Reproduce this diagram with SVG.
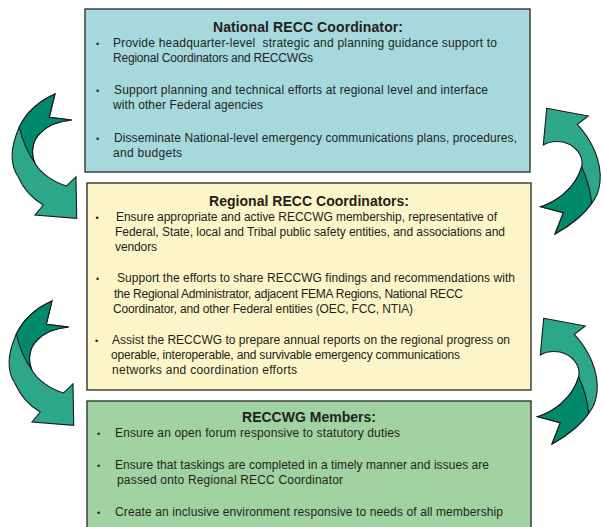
<svg xmlns="http://www.w3.org/2000/svg" xmlns:xlink="http://www.w3.org/1999/xlink" width="603" height="527" viewBox="0 0 603 527">
<style>
.box{stroke:#333;stroke-width:1.4}
.t{font-family:"Liberation Sans",Arial,sans-serif;font-weight:bold;font-size:14px;fill:#231f20;text-anchor:middle}
.b{font-family:"Liberation Sans",Arial,sans-serif;font-size:12px;fill:#231f20}
.bu{font-family:"Liberation Sans",Arial,sans-serif;font-size:9px;fill:#231f20}
.light{fill:#2ca78a;stroke:#1a1a1a;stroke-width:1.1;stroke-linejoin:miter}
.dark{fill:#00896a;stroke:#1a1a1a;stroke-width:1.1}
</style>
<defs>
<g id="arrowDown">
<path class="light" d="M55,94 Q30,105 19.3,127 C10,148 10,165 18.3,177 C24,190 33,199 43.3,205 L35,215 L76.7,218.3 L76,176.7 L66.7,186 C55,183 40,173 35,163.3 C30,152 33,140 40,133.3 C48,125 60,121 71.7,120 L49.3,117.3 Z"/>
<path class="dark" d="M55,94 Q30,105 19.3,127 Q24,148 35,163.3 C30,152 33,140 40,133.3 C48,125 60,121 71.7,120 L49.3,117.3 Z"/>
</g>
<g id="arrowUp">
<path class="light" d="M546.7,108.3 L588.3,116 L577.3,124.3 C592,140 602,162 600,182 C599,192 596,198 591.7,203.3 C586,212 572,225 555,234 L563.3,212.7 L540.7,206.7 C555,202 575,190 581.7,166.7 C584,155 575,145 563,142 C556,141 548,142 543.3,145 Z"/>
<path class="dark" d="M581.7,166.7 Q590,185 591.7,203.3 C586,212 572,225 555,234 L563.3,212.7 L540.7,206.7 C555,202 575,190 581.7,166.7 Z"/>
</g>
</defs>

<g id="node-national">
<rect class="box" x="85" y="9" width="445" height="163" fill="#a5d9dd"/>
<text class="t" x="308" y="31.5" textLength="190">National RECC Coordinator:</text>
<text class="bu" x="96" y="46.5">•</text>
<text class="b" x="113" y="47" textLength="384" xml:space="preserve">Provide headquarter-level  strategic and planning guidance support to</text>
<text class="b" x="113" y="62" textLength="200">Regional Coordinators and RECCWGs</text>
<text class="bu" x="96" y="94">•</text>
<text class="b" x="114" y="94.3" textLength="374">Support planning and technical efforts at regional level and interface</text>
<text class="b" x="113" y="109.3" textLength="150">with other Federal agencies</text>
<text class="bu" x="96" y="141.5">•</text>
<text class="b" x="114" y="141.7" textLength="403">Disseminate National-level emergency communications plans, procedures,</text>
<text class="b" x="113" y="156.7" textLength="69">and budgets</text>
</g>

<g id="node-regional">
<rect class="box" x="87" y="183" width="444" height="207" fill="#fcf5c7"/>
<text class="t" x="309" y="206" textLength="200">Regional RECC Coordinators:</text>
<text class="bu" x="95.5" y="220.5">•</text>
<text class="b" x="116" y="220.7" textLength="381">Ensure appropriate and active RECCWG membership, representative of</text>
<text class="b" x="115" y="236" textLength="390">Federal, State, local and Tribal public safety entities, and associations and</text>
<text class="b" x="115" y="251" textLength="42">vendors</text>
<text class="bu" x="96" y="282">•</text>
<text class="b" x="117" y="282.3" textLength="398">Support the efforts to share RECCWG findings and recommendations with</text>
<text class="b" x="114" y="297.7" textLength="349">the Regional Administrator, adjacent FEMA Regions, National RECC</text>
<text class="b" x="113" y="312.7" textLength="300">Coordinator, and other Federal entities (OEC, FCC, NTIA)</text>
<text class="bu" x="95" y="344">•</text>
<text class="b" x="112" y="344" textLength="398">Assist the RECCWG to prepare annual reports on the regional progress on</text>
<text class="b" x="111" y="359" textLength="349">operable, interoperable, and survivable emergency communications</text>
<text class="b" x="112" y="374" textLength="185">networks and coordination efforts</text>
</g>

<g id="node-members">
<rect class="box" x="87" y="401" width="444" height="140" fill="#a1d3a2"/>
<text class="t" x="309" y="421.7" textLength="134">RECCWG Members:</text>
<text class="bu" x="97" y="436.5">•</text>
<text class="b" x="115" y="436.7" textLength="285">Ensure an open forum responsive to statutory duties</text>
<text class="bu" x="97" y="469">•</text>
<text class="b" x="115" y="469" textLength="374">Ensure that taskings are completed in a timely manner and issues are</text>
<text class="b" x="117" y="484.3" textLength="226">passed onto Regional RECC Coordinator</text>
<text class="bu" x="97" y="515.5">•</text>
<text class="b" x="115" y="515.7" textLength="388">Create an inclusive environment responsive to needs of all membership</text>
</g>

<g id="connectors">
<use xlink:href="#arrowDown"/>
<use xlink:href="#arrowDown" transform="translate(-3,207)"/>
<use xlink:href="#arrowUp"/>
<use xlink:href="#arrowUp" transform="translate(-3,210)"/>
</g>
</svg>
